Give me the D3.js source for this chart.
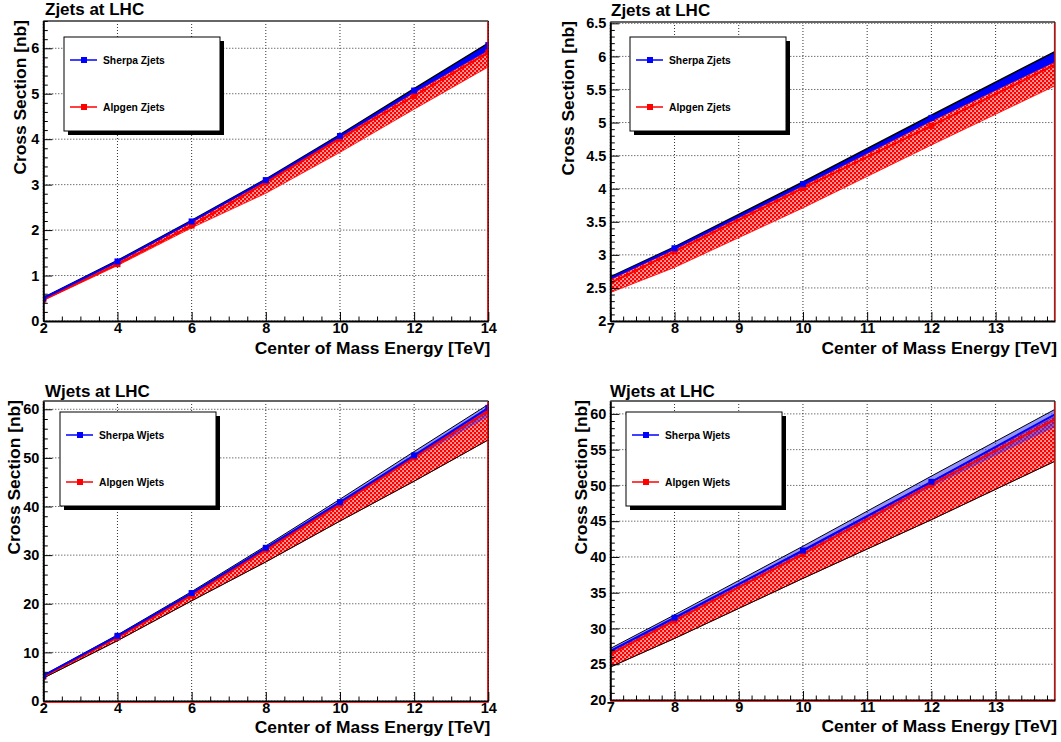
<!DOCTYPE html>
<html><head><meta charset="utf-8">
<script src="https://cdn.jsdelivr.net/npm/d3@7"></script>
<style>
body{margin:0;background:#fff}
svg{display:block}
text{font-family:"Liberation Sans",Arial,Helvetica,sans-serif;font-weight:bold;fill:#000}
</style>
</head><body>
<svg id="chart" width="1061" height="742"></svg>
<script>
// Centre-of-mass energies [TeV]
const energyZ = [2, 4, 6, 8, 10, 12, 14];
const energyW = [2, 4, 6, 8, 10, 12, 14];

// Z+jets cross sections [nb]
const sherpaZ   = [0.50, 1.31, 2.19, 3.10, 4.07, 5.07, 6.07];
const sherpaZHi = [0.51, 1.33, 2.21, 3.12, 4.10, 5.11, 6.11];
const sherpaZLo = [0.49, 1.30, 2.17, 3.08, 4.04, 5.02, 5.95];
const alpgenZ   = [0.47, 1.25, 2.10, 3.05, 4.01, 4.95, 5.91];
const alpgenZHi = [0.49, 1.29, 2.17, 3.08, 4.04, 5.02, 5.95];
const alpgenZLo = [0.45, 1.22, 2.05, 2.81, 3.71, 4.66, 5.59];

// W+jets cross sections [nb]
const sherpaW   = [5.2, 13.4, 22.2, 31.5, 40.9, 50.5, 60.3];
const sherpaWHi = [5.3, 13.6, 22.5, 31.9, 41.5, 51.3, 61.0];
const sherpaWLo = [5.1, 13.2, 21.9, 31.1, 40.3, 49.8, 58.5];
const alpgenW   = [5.0, 13.1, 21.7, 31.1, 40.4, 50.1, 59.6];
const alpgenWHi = [5.2, 13.4, 22.2, 31.5, 41.0, 50.6, 60.0];
const alpgenWLo = [4.7, 12.4, 20.6, 28.6, 37.0, 45.2, 53.7];

// Axis tick labels
const xTicksFull = [2, 4, 6, 8, 10, 12, 14];
const xTicksZoom = [7, 8, 9, 10, 11, 12, 13];
const yTicksZ     = [0, 1, 2, 3, 4, 5, 6];
const yTicksZZoom = [2, 2.5, 3, 3.5, 4, 4.5, 5, 5.5, 6, 6.5];
const yTicksW     = [0, 10, 20, 30, 40, 50, 60];
const yTicksWZoom = [20, 25, 30, 35, 40, 45, 50, 55, 60];

const legendNames = {Z: ["Sherpa Zjets", "Alpgen Zjets"], W: ["Sherpa Wjets", "Alpgen Wjets"]};
const titles = {Z: "Zjets at LHC", W: "Wjets at LHC"};

const series = {
  Z: {x: energyZ,
      sherpa: {c: sherpaZ, lo: sherpaZLo, hi: sherpaZHi},
      alpgen: {c: alpgenZ, lo: alpgenZLo, hi: alpgenZHi}},
  W: {x: energyW,
      sherpa: {c: sherpaW, lo: sherpaWLo, hi: sherpaWHi},
      alpgen: {c: alpgenW, lo: alpgenWLo, hi: alpgenWHi}}
};

const panels = [
  {proc: "Z", left: 43.3, right: 488.3, top: 21, bottom: 321, xDomain: [2, 14], yDomain: [0, 6.6],
   xTicks: xTicksFull, xMinor: 0.5, yTicks: yTicksZ, yMinor: 0.2,
   legend: {x: 64, y: 37}, titleX: 45, titleY: 15, yTitleX: 26, xTitleY: 353.5},
  {proc: "Z", left: 610.3, right: 1055, top: 22, bottom: 321, xDomain: [7, 13.925], yDomain: [2, 6.52],
   xTicks: xTicksZoom, xMinor: 0.2, yTicks: yTicksZZoom, yMinor: 0.1,
   legend: {x: 630, y: 37}, titleX: 611, titleY: 16, yTitleX: 574, xTitleY: 353.5},
  {proc: "W", left: 43.3, right: 488.3, top: 401, bottom: 701, xDomain: [2, 14], yDomain: [0, 61.7],
   xTicks: xTicksFull, xMinor: 0.5, yTicks: yTicksW, yMinor: 2,
   legend: {x: 60, y: 412}, titleX: 45, titleY: 396.5, yTitleX: 20, xTitleY: 732.5},
  {proc: "W", left: 610.3, right: 1055, top: 401, bottom: 700, xDomain: [7, 13.925], yDomain: [20, 61.8],
   xTicks: xTicksZoom, xMinor: 0.2, yTicks: yTicksWZoom, yMinor: 1,
   legend: {x: 626, y: 412}, titleX: 610, titleY: 396.5, yTitleX: 587, xTitleY: 732}
];

const svg = d3.select("#chart");
const defs = svg.append("defs");

// red cross-hatch (red lattice with small white holes) for the Alpgen band
const hatch = defs.append("pattern").attr("id", "redHatch")
  .attr("patternUnits", "userSpaceOnUse").attr("width", 4).attr("height", 4);
hatch.append("rect").attr("width", 4).attr("height", 4).attr("fill", "#ff0000");
hatch.append("rect").attr("x", 0.3).attr("y", 0.3).attr("width", 1.5).attr("height", 1.5).attr("fill", "#fff");
hatch.append("rect").attr("x", 2.3).attr("y", 2.3).attr("width", 1.5).attr("height", 1.5).attr("fill", "#fff");

function minorValues(domain, step, major) {
  const out = [];
  const n = Math.floor((domain[1] - domain[0]) / step + 1e-6);
  for (let i = 0; i <= n; i++) {
    const v = +(domain[0] + i * step).toFixed(6);
    if (!major.some(m => Math.abs(m - v) < 1e-6)) out.push(v);
  }
  return out;
}

panels.forEach((p, idx) => {
  const s = series[p.proc];
  const x = d3.scaleLinear().domain(p.xDomain).range([p.left, p.right]);
  const y = d3.scaleLinear().domain(p.yDomain).range([p.bottom, p.top]);
  const g = svg.append("g");

  const clipId = "clip" + idx;
  defs.append("clipPath").attr("id", clipId).append("rect")
    .attr("x", p.left).attr("y", p.top).attr("width", p.right - p.left).attr("height", p.bottom - p.top);

  // dotted grid at the major ticks
  const grid = g.append("g").attr("stroke", "#333").attr("stroke-width", 1).attr("stroke-dasharray", "1,2");
  p.xTicks.forEach(t => grid.append("line").attr("x1", x(t)).attr("x2", x(t)).attr("y1", p.top).attr("y2", p.bottom));
  p.yTicks.forEach(t => grid.append("line").attr("x1", p.left).attr("x2", p.right).attr("y1", y(t)).attr("y2", y(t)));

  const plot = g.append("g").attr("clip-path", `url(#${clipId})`);
  const idxs = d3.range(s.x.length);
  const band = (b) => d3.area().x(i => x(s.x[i])).y0(i => y(b.lo[i])).y1(i => y(b.hi[i]));
  const line = (arr) => d3.line().x(i => x(s.x[i])).y(i => y(arr[i]));

  // Alpgen band (hatched)
  plot.append("path").attr("d", band(s.alpgen)(idxs)).attr("fill", "url(#redHatch)")
    .attr("stroke", "#ff0000").attr("stroke-width", 0.8);
  if (p.proc === "W") {
    plot.append("path").attr("d", line(s.alpgen.lo)(idxs)).attr("fill", "none").attr("stroke", "#000").attr("stroke-width", 1);
  }
  // Sherpa band
  plot.append("path").attr("d", band(s.sherpa)(idxs))
    .attr("fill", p.proc === "Z" ? "#0000ff" : "rgba(40,40,255,0.5)").attr("stroke", "none");
  plot.append("path").attr("d", line(s.sherpa.hi)(idxs)).attr("fill", "none")
    .attr("stroke", "#000").attr("stroke-width", p.proc === "Z" ? 1.6 : 1);

  // central values
  plot.append("path").attr("d", line(s.alpgen.c)(idxs)).attr("fill", "none").attr("stroke", "#ff0000").attr("stroke-width", 2);
  plot.append("path").attr("d", line(s.sherpa.c)(idxs)).attr("fill", "none").attr("stroke", "#0000ff").attr("stroke-width", 2);
  const ms = 6;
  plot.selectAll(null).data(idxs).enter().append("rect")
    .attr("x", i => x(s.x[i]) - ms / 2).attr("y", i => y(s.alpgen.c[i]) - ms / 2)
    .attr("width", ms).attr("height", ms).attr("fill", "#ff0000");
  plot.selectAll(null).data(idxs).enter().append("rect")
    .attr("x", i => x(s.x[i]) - ms / 2).attr("y", i => y(s.sherpa.c[i]) - ms / 2)
    .attr("width", ms).attr("height", ms).attr("fill", "#0000ff");

  // frame
  g.append("line").attr("x1", p.left).attr("x2", p.right).attr("y1", p.top).attr("y2", p.top)
    .attr("stroke", "#666").attr("stroke-width", 2);
  g.append("line").attr("x1", p.right).attr("x2", p.right).attr("y1", p.top).attr("y2", p.bottom)
    .attr("stroke", "#000").attr("stroke-width", 1);
  g.append("line").attr("x1", p.right - 0.5).attr("x2", p.right - 0.5).attr("y1", p.top + 1).attr("y2", p.bottom)
    .attr("stroke", "#e00000").attr("stroke-width", 1.2);

  // axes with ticks pointing into the frame
  const fmt = d => String(d);
  const axX = g.append("g").attr("transform", `translate(0,${p.bottom})`)
    .call(d3.axisBottom(x).tickValues(p.xTicks).tickSizeInner(-9).tickSizeOuter(0).tickPadding(2).tickFormat(fmt));
  g.append("g").attr("transform", `translate(0,${p.bottom})`)
    .call(d3.axisBottom(x).tickValues(minorValues(p.xDomain, p.xMinor, p.xTicks)).tickSizeInner(-4.5).tickSizeOuter(0).tickFormat(""))
    .select(".domain").remove();
  const axY = g.append("g").attr("transform", `translate(${p.left},0)`)
    .call(d3.axisLeft(y).tickValues(p.yTicks).tickSizeInner(-9).tickSizeOuter(0).tickPadding(4).tickFormat(fmt));
  g.append("g").attr("transform", `translate(${p.left},0)`)
    .call(d3.axisLeft(y).tickValues(minorValues(p.yDomain, p.yMinor, p.yTicks)).tickSizeInner(-4.5).tickSizeOuter(0).tickFormat(""))
    .select(".domain").remove();
  [axX, axY].forEach(a => {
    a.select(".domain").attr("stroke", "#000").attr("stroke-width", 2);
    a.selectAll(".tick text").style("font-size", "14.5px").style("font-family", '"Liberation Sans",Arial,sans-serif').style("font-weight", "bold");
  });
  g.selectAll(".tick line").attr("stroke", "#000").attr("stroke-width", 1);
  if (p.proc === "W") {
    g.append("line").attr("x1", p.left).attr("x2", p.right).attr("y1", p.bottom + 1.5).attr("y2", p.bottom + 1.5)
      .attr("stroke", "#ff2020").attr("stroke-width", 1.2);
  }

  // titles
  g.append("text").attr("x", p.titleX).attr("y", p.titleY).style("font-size", "17px").text(titles[p.proc]);
  g.append("text").attr("x", p.right + 2).attr("y", p.xTitleY).attr("text-anchor", "end")
    .style("font-size", "17.4px").text("Center of Mass Energy [TeV]");
  g.append("text").attr("transform", `translate(${p.yTitleX},${p.top - 1}) rotate(-90)`).attr("text-anchor", "end")
    .style("font-size", "17.4px").text("Cross Section [nb]");

  // legend
  const L = p.legend, lw = 156, lh = 94;
  const lg = g.append("g");
  lg.append("rect").attr("x", L.x + 4).attr("y", L.y + 4).attr("width", lw).attr("height", lh).attr("fill", "#000");
  lg.append("rect").attr("x", L.x).attr("y", L.y).attr("width", lw).attr("height", lh)
    .attr("fill", "#fff").attr("stroke", "#000").attr("stroke-width", 1);
  const entries = [{name: legendNames[p.proc][0], color: "#0000ff", dy: 23},
                   {name: legendNames[p.proc][1], color: "#ff0000", dy: 70}];
  entries.forEach(e => {
    const yy = L.y + e.dy;
    lg.append("line").attr("x1", L.x + 6).attr("x2", L.x + 33).attr("y1", yy).attr("y2", yy)
      .attr("stroke", e.color).attr("stroke-width", 1.5);
    lg.append("rect").attr("x", L.x + 17).attr("y", yy - 3).attr("width", 6).attr("height", 6).attr("fill", e.color);
    lg.append("text").attr("x", L.x + 39).attr("y", yy + 3.7).style("font-size", "10.3px").text(e.name);
  });
});
</script>
</body></html>
